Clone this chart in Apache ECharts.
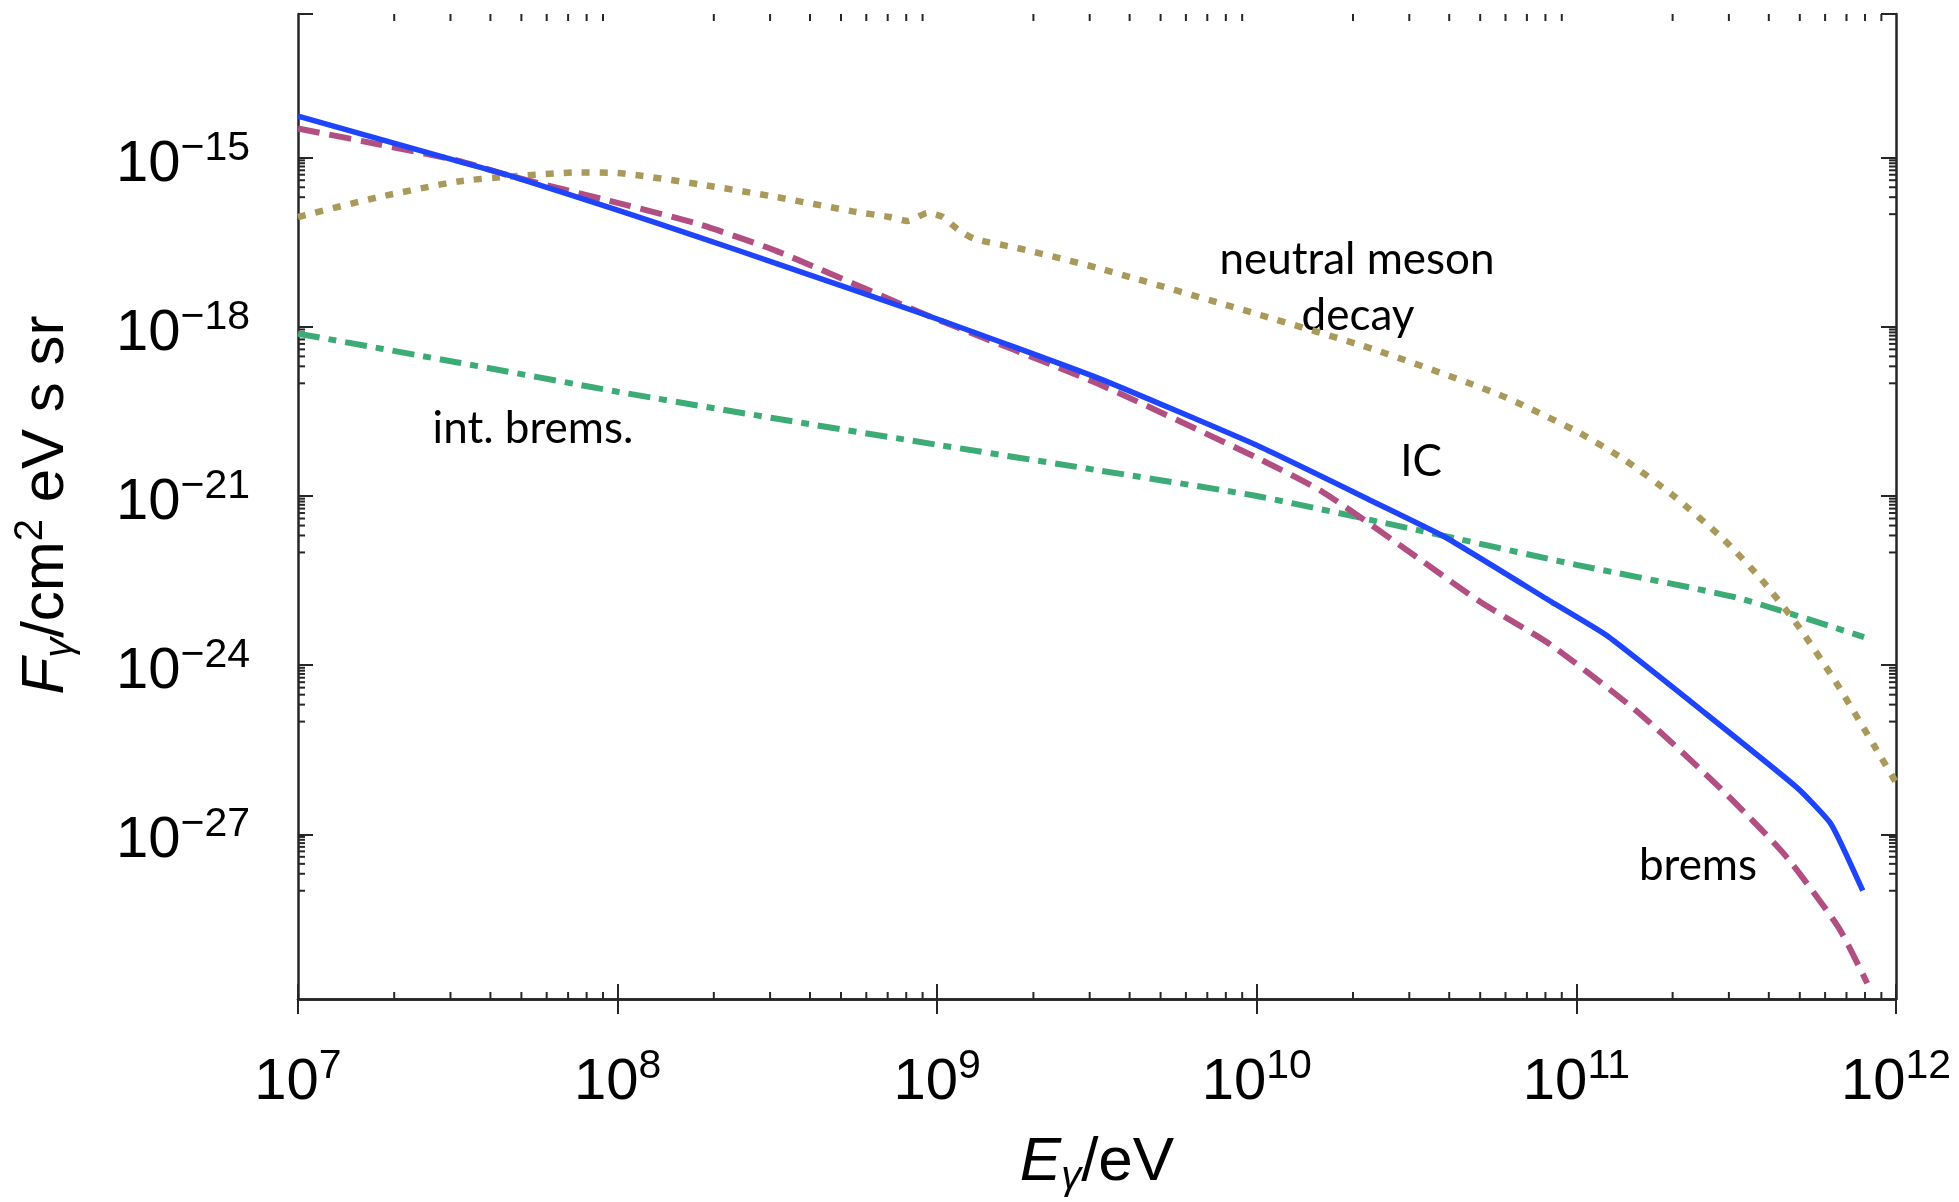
<!DOCTYPE html>
<html>
<head>
<meta charset="utf-8">
<script src="https://cdn.jsdelivr.net/npm/echarts@6/dist/echarts.min.js"></script>
<style>
html, body { margin:0; padding:0; background:#fff; }
#chart { width:1959px; height:1202px; }
</style>
</head>
<body>
<div id="chart"></div>
<script>
// ---------------- data ----------------
const xTickExponents = [7, 8, 9, 10, 11, 12];
const yTickExponents = [-27, -24, -21, -18, -15];

// IC (solid blue)
const icEnergy = [1e7, 1.778e7, 3.162e7, 4.677e7, 1e8, 1.803e8, 3.162e8, 9.55e8, 3.162e9, 1e10, 2.239e10, 3.89e10, 8.375e10, 1.242e11, 2.489e11, 4.92e11, 6.266e11, 7.87e11];
const icFlux   = [5.495e-15, 2.188e-15, 8.71e-16, 4.677e-16, 1.175e-16, 3.89e-17, 1.318e-17, 1.514e-18, 1.259e-19, 7.943e-21, 8.71e-22, 1.862e-22, 1.318e-23, 3.388e-24, 1.514e-25, 6.607e-27, 1.514e-27, 1e-28];

// brems (dashed magenta)
const bremsEnergy = [1e7, 1.778e7, 3.162e7, 4.677e7, 1e8, 1.803e8, 3.162e8, 9.55e8, 3.162e9, 1e10, 1.622e10, 3.162e10, 5.012e10, 8.318e10, 1.549e11, 2.818e11, 4.467e11, 6.607e11, 8.128e11];
const bremsFlux   = [3.311e-15, 1.738e-15, 8.913e-16, 4.677e-16, 1.585e-16, 6.607e-17, 2.188e-17, 1.514e-18, 1e-19, 4.786e-21, 1.148e-21, 8.318e-23, 1.318e-23, 2.291e-24, 1.514e-25, 6.607e-27, 4.467e-28, 2.239e-29, 2.291e-30];

// neutral meson decay (dotted olive)
const mesonEnergy = [1e7, 1.778e7, 3.162e7, 4.677e7, 7.586e7, 1e8, 1.803e8, 3.162e8, 5.445e8, 7.096e8, 8.072e8, 9.333e8, 1.04e9, 1.159e9, 1.309e9, 1.71e9, 1.945e9, 3.162e9, 1e10, 2.328e10, 5.728e10, 1e11, 1.409e11, 2.018e11, 2.891e11, 3.793e11, 4.966e11, 6.501e11, 8.511e11, 1e12];
const mesonFlux   = [8.913e-17, 1.995e-16, 3.802e-16, 4.677e-16, 5.495e-16, 5.37e-16, 3.388e-16, 1.995e-16, 1.122e-16, 8.913e-17, 7.586e-17, 1.047e-16, 8.913e-17, 5.37e-17, 3.631e-17, 2.63e-17, 2.239e-17, 1.122e-17, 1.698e-18, 3.981e-19, 6.31e-20, 1.413e-20, 4.467e-21, 1e-21, 1.698e-22, 3.311e-23, 4.786e-24, 4.898e-25, 3.89e-26, 8.318e-27];

// int. brems (dash-dot green)
const intEnergy = [1e7, 3.162e7, 1e8, 3.162e8, 1e9, 3.162e9, 1e10, 3.162e10, 1e11, 3.162e11, 7.943e11];
const intFlux   = [7.586e-19, 2.344e-19, 7.079e-20, 2.344e-20, 8.128e-21, 2.884e-21, 1e-21, 2.512e-22, 6.026e-23, 1.585e-23, 3.162e-24];

// ---------------- chart ----------------
const AXIS_COLOR = '#262626';
const X_MIN = 1e7, X_MAX = 1e12;
const Y_MIN = Math.pow(10, -29.92), Y_MAX = Math.pow(10, -12.45);
const axisFont = "'Liberation Sans', Arial, Helvetica, sans-serif";
const noteFont = "Lato, 'Open Sans', sans-serif";

const pairs = (xs, ys) => xs.map((x, i) => [x, ys[i]]);

const xMinor = [];
for (let n = 7; n < 12; n++) for (let k = 2; k <= 9; k++) xMinor.push(k * Math.pow(10, n));
const yMinor = [];
yTickExponents.forEach(m => { for (let k = 1; k <= 9; k++) yMinor.push(k * Math.pow(10, m - 1)); });

function expOf(v, list) {
  const e = Math.log10(v), r = Math.round(e);
  if (Math.abs(e - r) > 1e-6 || list.indexOf(r) < 0) return null;
  return r;
}
const richLabel = {
  b: { fontFamily: axisFont, fontSize: 58, lineHeight: 74, color: '#000' },
  s: { fontFamily: axisFont, fontSize: 41, lineHeight: 43, verticalAlign: 'top', color: '#000' }
};
function fmt(list) {
  return function (v) {
    const r = expOf(v, list);
    if (r === null) return '';
    return '{b|10}{s|' + (r < 0 ? '\u2212' + (-r) : r) + '}';
  };
}

function minorTicks(values, dir) {
  return {
    type: 'custom', silent: true, clip: false, z: 1,
    xAxisIndex: 0, yAxisIndex: 0,
    data: values.map(v => dir === 'x' ? [v, Y_MIN] : [X_MIN, v]),
    renderItem: function (params, api) {
      const L = 7;
      const st = { stroke: AXIS_COLOR, lineWidth: 2 };
      if (dir === 'x') {
        const v = api.value(0);
        const a = api.coord([v, Y_MIN]), b = api.coord([v, Y_MAX]);
        return { type: 'group', children: [
          { type: 'line', shape: { x1: a[0], y1: a[1], x2: a[0], y2: a[1] - L }, style: st },
          { type: 'line', shape: { x1: b[0], y1: b[1], x2: b[0], y2: b[1] + L }, style: st }
        ] };
      }
      const v = api.value(1);
      const a = api.coord([X_MIN, v]), b = api.coord([X_MAX, v]);
      return { type: 'group', children: [
        { type: 'line', shape: { x1: a[0], y1: a[1], x2: a[0] + L, y2: a[1] }, style: st },
        { type: 'line', shape: { x1: b[0], y1: b[1], x2: b[0] - L, y2: b[1] }, style: st }
      ] };
    }
  };
}

function axisCommon() {
  return {
    axisLine: { show: true, lineStyle: { color: AXIS_COLOR, width: 2.5 } },
    axisTick: { show: true, inside: true, length: 15, lineStyle: { color: AXIS_COLOR, width: 2 } },
    splitLine: { show: false },
    minorTick: { show: false },
  };
}

const chart = echarts.init(document.getElementById('chart'), null, { renderer: 'canvas' });
const option = {
  animation: false,
  backgroundColor: '#fff',
  grid: { left: 298, right: 63, top: 14, bottom: 203, containLabel: false, outerBoundsMode: 'none' },
  xAxis: [
    Object.assign(axisCommon(), {
      type: 'log', logBase: 10, min: X_MIN, max: X_MAX, position: 'bottom',
      axisLabel: { show: true, margin: 47, formatter: fmt(xTickExponents), rich: richLabel }
    }),
    Object.assign(axisCommon(), {
      type: 'log', logBase: 10, min: X_MIN, max: X_MAX, position: 'top',
      axisLabel: { show: false }
    })
  ],
  yAxis: [
    Object.assign(axisCommon(), {
      type: 'log', logBase: 1000, min: Y_MIN, max: Y_MAX, position: 'left',
      axisLabel: { show: true, margin: 48, padding: [14, 0, 0, 0], formatter: fmt(yTickExponents), rich: richLabel }
    }),
    Object.assign(axisCommon(), {
      type: 'log', logBase: 1000, min: Y_MIN, max: Y_MAX, position: 'right',
      axisLabel: { show: false }
    })
  ],
  series: [
    minorTicks(xMinor, 'x'),
    minorTicks(yMinor, 'y'),
    {
      name: 'neutral meson decay', type: 'line', data: pairs(mesonEnergy, mesonFlux),
      showSymbol: false, smooth: 0.2, z: 3,
      lineStyle: { color: '#a99a5b', width: 6.5, type: [8, 10] }
    },
    {
      name: 'int. brems.', type: 'line', data: pairs(intEnergy, intFlux),
      showSymbol: false, smooth: 0.2, z: 3,
      lineStyle: { color: '#3dab76', width: 6, type: [22, 9, 8, 9] }
    },
    {
      name: 'brems', type: 'line', data: pairs(bremsEnergy, bremsFlux),
      showSymbol: false, smooth: 0.2, z: 4,
      lineStyle: { color: '#b24f82', width: 6, type: [22, 10] }
    },
    {
      name: 'IC', type: 'line', data: pairs(icEnergy, icFlux),
      showSymbol: false, smooth: 0.15, z: 5,
      lineStyle: { color: '#1f45fc', width: 5.5, type: 'solid' }
    }
  ],
  graphic: [
    { type: 'text', x: 1097, y: 1163, style: {
        text: '{i|E}{g|\u03b3}{n|/eV}', align: 'center', verticalAlign: 'middle',
        rich: {
          i: { fontFamily: axisFont, fontStyle: 'italic', fontSize: 62, lineHeight: 70, color: '#000' },
          g: { fontFamily: axisFont, fontStyle: 'italic', fontSize: 40, lineHeight: 46, verticalAlign: 'bottom', color: '#000' },
          n: { fontFamily: axisFont, fontSize: 62, lineHeight: 70, color: '#000' }
        } } },
    { type: 'text', x: 46, y: 505, rotation: Math.PI / 2, style: {
        text: '{i|F}{g|\u03b3}{n|/cm}{s|2}{n| eV s sr}', align: 'center', verticalAlign: 'middle',
        rich: {
          i: { fontFamily: axisFont, fontStyle: 'italic', fontSize: 60, lineHeight: 70, color: '#000' },
          g: { fontFamily: axisFont, fontStyle: 'italic', fontSize: 40, lineHeight: 46, verticalAlign: 'bottom', color: '#000' },
          n: { fontFamily: axisFont, fontSize: 60, lineHeight: 70, color: '#000' },
          s: { fontFamily: axisFont, fontSize: 40, lineHeight: 40, verticalAlign: 'top', color: '#000' }
        } } },
    { type: 'text', x: 1357, y: 260, style: { text: 'neutral meson', fontFamily: noteFont, fontSize: 44, fill: '#000', align: 'center', verticalAlign: 'middle' } },
    { type: 'text', x: 1358, y: 316, style: { text: 'decay', fontFamily: noteFont, fontSize: 44, fill: '#000', align: 'center', verticalAlign: 'middle' } },
    { type: 'text', x: 533, y: 429, style: { text: 'int. brems.', fontFamily: noteFont, fontSize: 44, fill: '#000', align: 'center', verticalAlign: 'middle' } },
    { type: 'text', x: 1421, y: 462, style: { text: 'IC', fontFamily: noteFont, fontSize: 44, fill: '#000', align: 'center', verticalAlign: 'middle' } },
    { type: 'text', x: 1698, y: 866, style: { text: 'brems', fontFamily: noteFont, fontSize: 44, fill: '#000', align: 'center', verticalAlign: 'middle' } }
  ]
};
chart.setOption(option);
</script>
</body>
</html>
